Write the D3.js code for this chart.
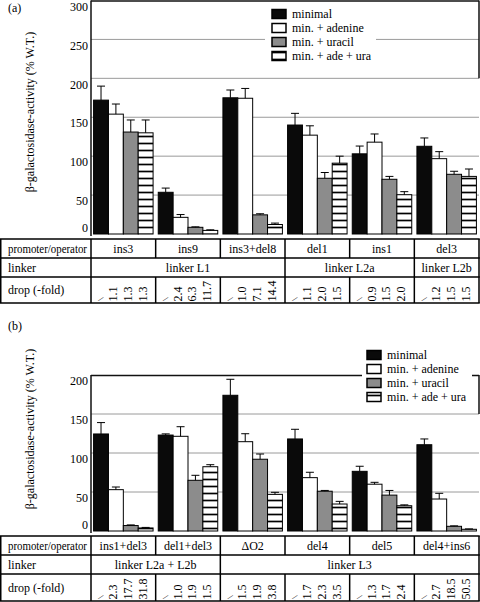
<!DOCTYPE html>
<html><head><meta charset="utf-8">
<script src="https://cdn.jsdelivr.net/npm/d3@7"></script>
<style>
body{margin:0;background:#fff}
svg{display:block}
</style>
</head><body><div id="chart"></div>
<script>
// ---------- data ----------
const seriesNames = ["minimal", "min. + adenine", "min. + uracil", "min. + ade + ura"];
const rowLabels = ["promoter/operator", "linker", "drop (-fold)"];

const constructsA = ["ins3", "ins9", "ins3+del8", "del1", "ins1", "del3"];
const minimalA = [172, 53.6, 175, 140, 103, 112.7];
const adenineA = [154, 21.4, 174.4, 127, 118, 96.8];
const uracilA  = [131, 8.6, 24.6, 71.6, 70.3, 76.7];
const adeUraA  = [130, 4.6, 12.2, 91, 50.5, 74];
const minimalErrA = [18, 5.4, 10, 15, 10, 10.7];
const adenineErrA = [13, 3.6, 12.6, 12, 10.5, 9];
const uracilErrA  = [15.5, 0.6, 1.4, 7.4, 3.7, 3.9];
const adeUraErrA  = [16.5, 0.8, 1.8, 9, 3.9, 9.5];
const dropsA = [["/", "1.1", "1.3", "1.3"], ["/", "2.4", "6.3", "11.7"], ["/", "1.0", "7.1", "14.4"],
                ["/", "1.1", "2.0", "1.5"], ["/", "0.9", "1.5", "2.0"], ["/", "1.2", "1.5", "1.5"]];
const linkerLabelsA = ["linker L1", "linker L2a", "linker L2b"];
const linkerSpansA = [3, 2, 1];
const ticksA = [0, 50, 100, 150, 200, 250, 300];

const constructsB = ["ins1+del3", "del1+del3", "ΔO2", "del4", "del5", "del4+ins6"];
const minimalB = [124.4, 123, 174, 118, 76.5, 110.6];
const adenineB = [53, 121.4, 114.5, 68.4, 60, 41];
const uracilB  = [7.0, 65, 92, 51, 46, 6];
const adeUraB  = [3.9, 82.4, 47, 34.6, 32.4, 2.2];
const minimalErrB = [14.6, 1.5, 20.5, 12.4, 6.5, 7.4];
const adenineErrB = [3.4, 12.3, 10.2, 6.9, 2.4, 7.3];
const uracilErrB  = [0.8, 6.4, 6.7, 1, 6, 0.6];
const adeUraErrB  = [0.7, 2.6, 2.6, 3.4, 1.1, 0.5];
const dropsB = [["/", "2.3", "17.7", "31.8"], ["/", "1.0", "1.9", "1.5"], ["/", "1.5", "1.9", "3.8"],
                ["/", "1.7", "2.3", "3.5"], ["/", "1.3", "1.7", "2.4"], ["/", "2.7", "18.5", "50.5"]];
const linkerLabelsB = ["linker L2a + L2b", "linker L3"];
const linkerSpansB = [2, 4];
const ticksB = [0, 50, 100, 150, 200];

// ---------- setup ----------
const W = 480, H = 602;
const FONT = "'Liberation Serif', 'DejaVu Serif', 'Times New Roman', serif";
const svg = d3.select("#chart").append("svg").attr("width", W).attr("height", H)
  .attr("font-family", FONT).style("font-family", FONT);
const defs = svg.append("defs");
const pat = defs.append("pattern").attr("id", "hatch").attr("patternUnits", "userSpaceOnUse")
  .attr("width", 8).attr("height", 7);
pat.append("rect").attr("width", 8).attr("height", 7).attr("fill", "#fff");
pat.append("line").attr("x1", 0).attr("x2", 8).attr("y1", 3.5).attr("y2", 3.5)
  .attr("stroke", "#000").attr("stroke-width", 1.7);

const fills = ["#0a0a0a", "#ffffff", "#8c8c8c", "url(#hatch)"];
const xLeft = 91, xRight = 479;

function drawPanel(cfg) {
  const g = svg.append("g");
  const x0 = d3.scaleBand().domain(cfg.constructs).range([xLeft, xRight])
    .paddingInner(0.08).paddingOuter(0.04);
  const x1 = d3.scaleBand().domain(d3.range(4)).range([0, x0.bandwidth()]);
  const y = d3.scaleLinear().domain(cfg.domain).range(cfg.range);
  const step = x0.step();
  const colEdge = i => xLeft + i * step;

  // gridlines
  g.append("g").selectAll("line").data(cfg.ticks.filter(t => t > 0 && t < cfg.domain[1])).join("line")
    .attr("x1", xLeft).attr("x2", xRight).attr("y1", d => y(d)).attr("y2", d => y(d))
    .attr("stroke", "#9a9a9a").attr("stroke-width", 1);

  // top border & right border stub
  g.append("line").attr("x1", xLeft).attr("x2", xRight).attr("y1", y(cfg.domain[1]) + 0.5).attr("y2", y(cfg.domain[1]) + 0.5)
    .attr("stroke", "#111").attr("stroke-width", 1.5);
  g.append("line").attr("x1", xRight).attr("x2", xRight).attr("y1", y(cfg.domain[1])).attr("y2", y(cfg.rightStub))
    .attr("stroke", "#111").attr("stroke-width", 1.5);

  // legend background (white) then legend
  g.append("rect").attr("x", cfg.legend.bx).attr("y", cfg.legend.by).attr("width", cfg.legend.bw).attr("height", cfg.legend.bh)
    .attr("fill", "#fff");
  const lg = g.append("g");
  seriesNames.forEach((s, i) => {
    const cy = cfg.legend.y0 + i * 14;
    lg.append("rect").attr("x", cfg.legend.x).attr("y", cy - 4.5).attr("width", 14).attr("height", 9)
      .attr("fill", fills[i]).attr("stroke", "#000").attr("stroke-width", 1.5);
    lg.append("text").attr("x", cfg.legend.x + 20).attr("y", cy).attr("dy", "0.35em")
      .attr("font-size", 12).text(s);
  });

  // bars
  const series = cfg.series;
  const errs = cfg.errs;
  const groups = g.append("g").selectAll("g").data(cfg.constructs).join("g")
    .attr("transform", d => `translate(${x0(d)},0)`);
  groups.each(function (c, ci) {
    const gg = d3.select(this);
    const vals = series.map((s, si) => ({ si, v: s[ci], e: errs[si][ci] }));
    gg.selectAll("rect").data(vals).join("rect")
      .attr("x", d => x1(d.si)).attr("width", x1.bandwidth())
      .attr("y", d => y(d.v)).attr("height", d => y(0) - y(d.v))
      .attr("fill", d => fills[d.si]).attr("stroke", "#000").attr("stroke-width", 1);
    const eb = gg.selectAll("g.eb").data(vals).join("g").attr("class", "eb");
    eb.append("line").attr("x1", d => x1(d.si) + x1.bandwidth() / 2).attr("x2", d => x1(d.si) + x1.bandwidth() / 2)
      .attr("y1", d => y(d.v)).attr("y2", d => y(d.v + d.e)).attr("stroke", "#000").attr("stroke-width", 1);
    eb.append("line").attr("x1", d => x1(d.si) + x1.bandwidth() / 2 - 4).attr("x2", d => x1(d.si) + x1.bandwidth() / 2 + 4)
      .attr("y1", d => y(d.v + d.e)).attr("y2", d => y(d.v + d.e)).attr("stroke", "#000").attr("stroke-width", 1);
  });

  // left axis line
  g.append("line").attr("x1", xLeft).attr("x2", xLeft).attr("y1", y(cfg.domain[1])).attr("y2", y(0) + 2)
    .attr("stroke", "#111").attr("stroke-width", 1.5);

  // tick labels
  g.append("g").selectAll("text").data(cfg.ticks).join("text")
    .attr("x", 88).attr("y", d => d === 0 ? y(d) - 6 : y(d) + 6).attr("dy", "0.35em")
    .attr("text-anchor", "end").attr("font-size", 12).text(d => d);

  // y title
  g.append("text").attr("transform", `translate(34,${cfg.titleY}) rotate(-90)`)
    .attr("text-anchor", "middle").attr("font-size", 12).text("β-galactosidase-activity (% W.T.)");

  // panel label
  g.append("text").attr("x", 8).attr("y", cfg.labelY).attr("dy", "0.35em").attr("font-size", 12).text(cfg.label);

  // ---------- table ----------
  const rows = cfg.rows; // [top, r1, r2, bottom]
  const t = g.append("g");
  const ln = (xa, ya, xb, yb) => t.append("line").attr("x1", xa).attr("y1", ya).attr("x2", xb).attr("y2", yb)
    .attr("stroke", "#000").attr("stroke-width", 1.5);
  rows.forEach(r => ln(0, r, xRight + 0.75, r));
  ln(0.75, rows[0], 0.75, rows[3]);
  ln(xLeft, rows[0], xLeft, rows[3]);
  for (let i = 1; i <= cfg.constructs.length; i++) {
    const xe = i === cfg.constructs.length ? xRight : colEdge(i);
    ln(xe, rows[0], xe, rows[1]);
    ln(xe, rows[2], xe, rows[3]);
  }
  let acc = 0;
  cfg.linkerSpans.forEach((sp, i) => {
    const xa = colEdge(acc), xb = acc + sp === cfg.constructs.length ? xRight : colEdge(acc + sp);
    ln(xb, rows[1], xb, rows[2]);
    t.append("text").attr("x", (xa + xb) / 2).attr("y", (rows[1] + rows[2]) / 2).attr("dy", "0.35em")
      .attr("text-anchor", "middle").attr("font-size", 12).text(cfg.linkerLabels[i]);
    acc += sp;
  });
  rowLabels.forEach((r, i) => {
    const tx = t.append("text").attr("x", 8).attr("y", (rows[i] + rows[i + 1]) / 2).attr("dy", "0.35em")
      .attr("font-size", 12).text(r);
    if (i === 0) tx.attr("textLength", 79).attr("lengthAdjust", "spacingAndGlyphs");
  });
  cfg.constructs.forEach((c, i) => {
    const xa = colEdge(i), xb = i + 1 === cfg.constructs.length ? xRight : colEdge(i + 1);
    t.append("text").attr("x", (xa + xb) / 2).attr("y", (rows[0] + rows[1]) / 2).attr("dy", "0.35em")
      .attr("text-anchor", "middle").attr("font-size", 12).text(c);
  });
  cfg.constructs.forEach((c, ci) => {
    cfg.drops[ci].forEach((d, si) => {
      const cx = x0(c) + x1(si) + x1.bandwidth() / 2;
      if (d === "/") {
        t.append("text").attr("transform", `translate(${cx},${rows[3] - 4}) rotate(38)`)
          .attr("text-anchor", "middle").attr("dy", "0.35em").attr("font-size", 9).text(d);
      } else {
        t.append("text").attr("transform", `translate(${cx - 3},${rows[3] - 1.5}) rotate(-90)`)
          .attr("dominant-baseline", "central").attr("font-size", 12).text(d);
      }
    });
  });
}

drawPanel({
  constructs: constructsA, series: [minimalA, adenineA, uracilA, adeUraA],
  errs: [minimalErrA, adenineErrA, uracilErrA, adeUraErrA],
  drops: dropsA, linkerLabels: linkerLabelsA, linkerSpans: linkerSpansA, ticks: ticksA,
  domain: [0, 300], range: [234, 0.5], rightStub: 200,
  legend: { x: 272, y0: 14, bx: 265, by: 4, bw: 111, bh: 60 },
  titleY: 112, label: "(a)", labelY: 8, rows: [239, 258, 277, 303]
});
drawPanel({
  constructs: constructsB, series: [minimalB, adenineB, uracilB, adeUraB],
  errs: [minimalErrB, adenineErrB, uracilErrB, adeUraErrB],
  drops: dropsB, linkerLabels: linkerLabelsB, linkerSpans: linkerSpansB, ticks: ticksB,
  domain: [0, 200], range: [531, 375], rightStub: 150,
  legend: { x: 367, y0: 355, bx: 362, by: 346, bw: 110, bh: 59 },
  titleY: 429, label: "(b)", labelY: 326, rows: [536, 555, 574, 601]
});
</script>
</body></html>
